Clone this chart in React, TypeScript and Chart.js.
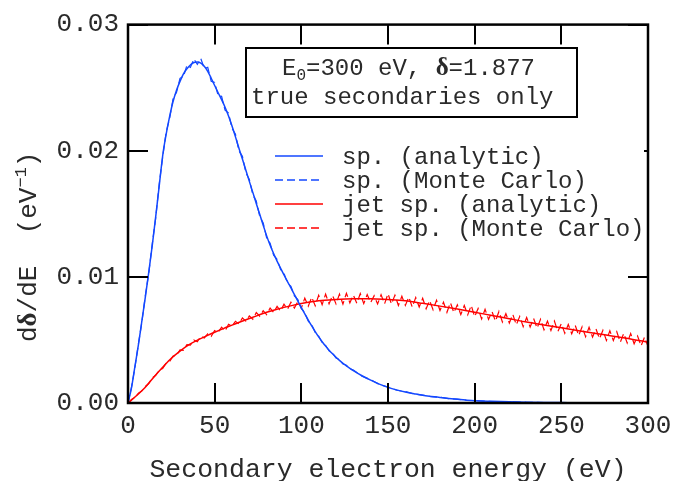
import React, { useEffect, useRef } from 'react';
import { Chart, registerables } from 'chart.js';

Chart.register(...registerables);

const MONO = '"Liberation Mono", "DejaVu Sans Mono", monospace';
const SERIF = '"Liberation Serif", "DejaVu Serif", serif';
const BLUE = '#1448ff';
const RED = '#ff0000';
const TEXT = '#2a2a2a';

// ---- tick labels ----
const X_TICKS = [0, 50, 100, 150, 200, 250, 300];
const Y_TICKS = [0, 0.01, 0.02, 0.03];

// ---- "sp." series (blue) ----
const BLUE_E = [0, 2, 4, 6, 8, 10, 12, 14, 16, 18, 20, 22, 24, 26, 28, 30, 32, 34, 36, 38, 40, 42, 44, 46, 48, 50, 52, 54, 56, 58, 60, 62, 64, 66, 68, 70, 72, 74, 76, 78, 80, 82, 84, 86, 88, 90, 92, 94, 96, 98, 100, 102, 104, 106, 108, 110, 112, 114, 116, 118, 120, 122, 124, 126, 128, 130, 135, 140, 145, 150, 155, 160, 165, 170, 175, 180, 185, 190, 195, 200, 210, 220, 230, 240, 250, 260, 280, 300];
const BLUE_ANALYTIC = [0, 0.0012, 0.0029, 0.0046, 0.0065, 0.0084, 0.0104, 0.0125, 0.0148, 0.0172, 0.0196, 0.0213, 0.0227, 0.0239, 0.0248, 0.0255, 0.0261, 0.0265, 0.0268, 0.027, 0.02703, 0.02695, 0.0267, 0.0263, 0.02575, 0.02517, 0.0246, 0.02405, 0.02345, 0.02275, 0.02196, 0.0211, 0.0202, 0.01934, 0.01845, 0.01757, 0.0167, 0.01582, 0.01496, 0.0141, 0.01325, 0.0125, 0.01185, 0.01125, 0.0107, 0.01015, 0.00963, 0.00912, 0.0086, 0.00808, 0.00757, 0.00707, 0.00658, 0.00611, 0.00566, 0.00524, 0.00486, 0.00451, 0.00419, 0.0039, 0.00363, 0.00338, 0.00315, 0.00294, 0.00275, 0.00257, 0.00216, 0.00181, 0.0015, 0.00124, 0.00104, 0.00088, 0.00074, 0.00061, 0.00052, 0.00044, 0.00036, 0.00029, 0.00023, 0.00018, 0.00013, 0.00009, 0.00006, 0.00004, 0.00003, 0.00002, 0.00001, 0.00001];
const BLUE_MC = [0, 0.00124, 0.00283, 0.00468, 0.00641, 0.00852, 0.01031, 0.01262, 0.01469, 0.01735, 0.01948, 0.02147, 0.02255, 0.02412, 0.02463, 0.02574, 0.02589, 0.02678, 0.02661, 0.02728, 0.02684, 0.02731, 0.02652, 0.02661, 0.02551, 0.02541, 0.02437, 0.02431, 0.02321, 0.02298, 0.02178, 0.02131, 0.01998, 0.01957, 0.01826, 0.01772, 0.01651, 0.01601, 0.01479, 0.01428, 0.01308, 0.01266, 0.01172, 0.01139, 0.01058, 0.01029, 0.00951, 0.00925, 0.00849, 0.00819, 0.00748, 0.00716, 0.00649, 0.0062, 0.00559, 0.00531, 0.00479, 0.00457, 0.00413, 0.00396, 0.00357, 0.00343, 0.00309, 0.00299, 0.0027, 0.00261, 0.00212, 0.00185, 0.00147, 0.00127, 0.00101, 0.00091, 0.00072, 0.00063, 0.0005, 0.00045, 0.00035, 0.0003, 0.00022, 0.00019, 0.00012, 0.00009, 0.00006, 0.00004, 0.00003, 0.00002, 0.00001, 0.00001];

// ---- "jet sp." series (red) ----
const RED_E = [0, 5, 10, 15, 20, 25, 30, 35, 40, 45, 50, 55, 60, 65, 70, 75, 80, 85, 90, 95, 100, 110, 120, 130, 140, 150, 160, 170, 180, 190, 200, 210, 220, 230, 240, 250, 260, 270, 280, 290, 300];
const RED_ANALYTIC = [0, 0.00059, 0.00125, 0.00207, 0.00283, 0.00355, 0.00412, 0.00461, 0.00498, 0.0053, 0.00561, 0.0059, 0.00617, 0.00644, 0.0067, 0.00695, 0.00719, 0.0074, 0.00758, 0.00774, 0.00788, 0.0081, 0.0082, 0.00826, 0.00827, 0.0082, 0.0081, 0.0079, 0.00768, 0.00745, 0.0072, 0.00693, 0.00668, 0.00642, 0.00619, 0.00597, 0.00573, 0.00551, 0.0053, 0.00508, 0.00482];
const RED_MC_E = Array.from({ length: 151 }, (_, i) => i * 2);
const RED_MC = [0, 0.00027, 0.00044, 0.00078, 0.00096, 0.00131, 0.00154, 0.00199, 0.0022, 0.00259,
  0.00274, 0.00316, 0.00329, 0.00372, 0.00378, 0.00421, 0.00418, 0.00463, 0.00459, 0.00499,
  0.00486, 0.0053, 0.00516, 0.00549, 0.00528, 0.00575, 0.00561, 0.00601, 0.0057, 0.00624,
  0.00609, 0.00648, 0.00626, 0.00674, 0.00649, 0.00691, 0.00664, 0.00717, 0.00688, 0.00732,
  0.00701, 0.00753, 0.00719, 0.00766, 0.00728, 0.00784, 0.00743, 0.00798, 0.00753, 0.00806,
  0.00752, 0.00832, 0.00768, 0.00839, 0.00771, 0.00854, 0.00779, 0.00863, 0.00786, 0.00853,
  0.00786, 0.00863, 0.00784, 0.0087, 0.00794, 0.00856, 0.0079, 0.00867, 0.00788, 0.0086,
  0.00796, 0.00851, 0.00785, 0.00858, 0.00786, 0.00866, 0.00784, 0.00855, 0.00774, 0.00846,
  0.00774, 0.00839, 0.0076, 0.00836, 0.00761, 0.0083, 0.00747, 0.00812, 0.00739, 0.00815,
  0.00733, 0.00799, 0.00719, 0.00796, 0.00716, 0.00778, 0.00701, 0.00773, 0.00699, 0.00774,
  0.00684, 0.00749, 0.00666, 0.00743, 0.00663, 0.00724, 0.00649, 0.00726, 0.00642, 0.00708,
  0.00634, 0.00703, 0.0062, 0.00687, 0.00605, 0.00678, 0.00602, 0.00671, 0.00594, 0.00664,
  0.0058, 0.00649, 0.00574, 0.0065, 0.00566, 0.0063, 0.00552, 0.00623, 0.00549, 0.00617,
  0.00535, 0.00604, 0.00525, 0.006, 0.00522, 0.00587, 0.00509, 0.00577, 0.00496, 0.00573,
  0.00495, 0.00564, 0.00482, 0.00552, 0.00476, 0.00551, 0.00469, 0.00531, 0.00453, 0.00522,
  0.00449];

const LEGEND_LABELS = ['sp. (analytic)', 'sp. (Monte Carlo)', 'jet sp. (analytic)', 'jet sp. (Monte Carlo)'];

const pts = (xs: number[], ys: number[]) => xs.map((x, i) => ({ x, y: ys[i] }));

const TICK_LEN = 20;

const overlayPlugin = {
  id: 'overlay',
  afterDraw(chart: any) {
    const { ctx, chartArea: a } = chart;
    const xs = chart.scales.x;
    const ys = chart.scales.y;
    ctx.save();
    // inward ticks on all sides
    ctx.strokeStyle = '#000';
    ctx.lineWidth = 2;
    ctx.beginPath();
    xs.ticks.forEach((t: any) => {
      const p = Math.round(xs.getPixelForValue(t.value));
      ctx.moveTo(p, a.bottom); ctx.lineTo(p, a.bottom - TICK_LEN);
      ctx.moveTo(p, a.top); ctx.lineTo(p, a.top + TICK_LEN);
    });
    ys.ticks.forEach((t: any) => {
      const p = Math.round(ys.getPixelForValue(t.value));
      ctx.moveTo(a.left, p); ctx.lineTo(a.left + TICK_LEN, p);
      ctx.moveTo(a.right, p); ctx.lineTo(a.right - TICK_LEN, p);
    });
    ctx.stroke();
    // frame
    ctx.lineWidth = 2.5;
    ctx.strokeRect(a.left, a.top, a.right - a.left, a.bottom - a.top);

    // legend (white background)
    ctx.fillStyle = '#fff';
    ctx.fillRect(272, 142, 644 - 272, 96);
    const order = [1, 0, 3, 2];
    ctx.font = '24px ' + MONO;
    ctx.textAlign = 'left';
    ctx.textBaseline = 'alphabetic';
    order.forEach((di, i) => {
      const ds = chart.data.datasets[di];
      const yy = 156 + i * 24;
      ctx.beginPath();
      ctx.strokeStyle = ds.borderColor;
      ctx.lineWidth = 1.5;
      ctx.setLineDash(ds.borderDash || []);
      ctx.moveTo(275, yy); ctx.lineTo(323, yy);
      ctx.stroke();
      ctx.setLineDash([]);
      ctx.fillStyle = TEXT;
      ctx.fillText(LEGEND_LABELS[i], 342, yy + 7.5);
    });

    // info box
    ctx.fillStyle = '#fff';
    ctx.fillRect(246, 48, 331, 69);
    ctx.strokeStyle = '#000';
    ctx.lineWidth = 2;
    ctx.strokeRect(246, 48, 331, 69);
    ctx.fillStyle = TEXT;
    let cx = 282;
    const by = 74.5;
    const put = (txt: string, font: string, dy = 0) => {
      ctx.font = font;
      ctx.fillText(txt, cx, by + dy);
      cx += ctx.measureText(txt).width;
    };
    put('E', '24px ' + MONO);
    put('0', '16px ' + MONO, 5);
    put('=300 eV, ', '24px ' + MONO);
    put('\u03b4', 'bold 25px ' + SERIF);
    put('=1.877', '24px ' + MONO);
    ctx.font = '24px ' + MONO;
    ctx.fillText('true secondaries only', 251, 104);

    // x axis title
    ctx.font = '26.5px ' + MONO;
    ctx.textAlign = 'center';
    ctx.fillText('Secondary electron energy (eV)', (a.left + a.right) / 2, 477);

    // y axis title (rotated)
    ctx.save();
    ctx.translate(36, 342);
    ctx.rotate(-Math.PI / 2);
    ctx.textAlign = 'left';
    let tx = 0;
    const putR = (txt: string, font: string, dy = 0) => {
      ctx.font = font;
      ctx.fillText(txt, tx, dy);
      tx += ctx.measureText(txt).width;
    };
    putR('d', '26px ' + MONO);
    putR('\u03b4', 'bold 27px ' + SERIF);
    putR('/dE  (eV', '26px ' + MONO);
    putR('\u22121', '17px ' + MONO, -10);
    putR(')', '26px ' + MONO);
    ctx.restore();

    ctx.restore();
  },
};

export default function App() {
  const ref = useRef<HTMLCanvasElement>(null);
  useEffect(() => {
    document.body.style.margin = '0';
    const tickFont = { family: MONO, size: 26 };
    const chart = new Chart(ref.current as HTMLCanvasElement, {
      type: 'line',
      data: {
        datasets: [
          {
            label: LEGEND_LABELS[1], data: pts(BLUE_E, BLUE_MC), borderColor: BLUE, borderWidth: 1.2,
            borderDash: [8, 4], pointRadius: 0, fill: false, tension: 0,
          },
          {
            label: LEGEND_LABELS[0], data: pts(BLUE_E, BLUE_ANALYTIC), borderColor: BLUE, borderWidth: 1.5,
            pointRadius: 0, fill: false, cubicInterpolationMode: 'monotone',
          },
          {
            label: LEGEND_LABELS[3], data: pts(RED_MC_E, RED_MC), borderColor: RED, borderWidth: 1.2,
            borderDash: [8, 4], pointRadius: 0, fill: false, tension: 0,
          },
          {
            label: LEGEND_LABELS[2], data: pts(RED_E, RED_ANALYTIC), borderColor: RED, borderWidth: 1.5,
            pointRadius: 0, fill: false, cubicInterpolationMode: 'monotone',
          },
        ],
      } as any,
      options: {
        responsive: false,
        devicePixelRatio: 1,
        animation: false,
        layout: { padding: { top: 19, right: 37, left: 0, bottom: 0 } },
        plugins: { legend: { display: false }, tooltip: { enabled: false } },
        scales: {
          x: {
            type: 'linear',
            min: X_TICKS[0],
            max: X_TICKS[X_TICKS.length - 1],
            grid: { display: false, drawTicks: false },
            border: { display: false },
            ticks: {
              stepSize: 50, font: tickFont, color: TEXT, padding: 8, maxRotation: 0,
              callback: (v: any) => String(v),
            },
            afterFit: (s: any) => { s.height = 78; },
          },
          y: {
            type: 'linear',
            min: Y_TICKS[0],
            max: Y_TICKS[Y_TICKS.length - 1],
            grid: { display: false, drawTicks: false },
            border: { display: false },
            ticks: {
              stepSize: 0.01, font: tickFont, color: TEXT, padding: 9,
              callback: (v: any) => Number(v).toFixed(2),
            },
            afterFit: (s: any) => { s.width = 128; },
          },
        },
      } as any,
      plugins: [overlayPlugin],
    });
    return () => chart.destroy();
  }, []);
  return <canvas ref={ref} width={685} height={481} style={{ display: 'block', width: 685, height: 481 }} />;
}
